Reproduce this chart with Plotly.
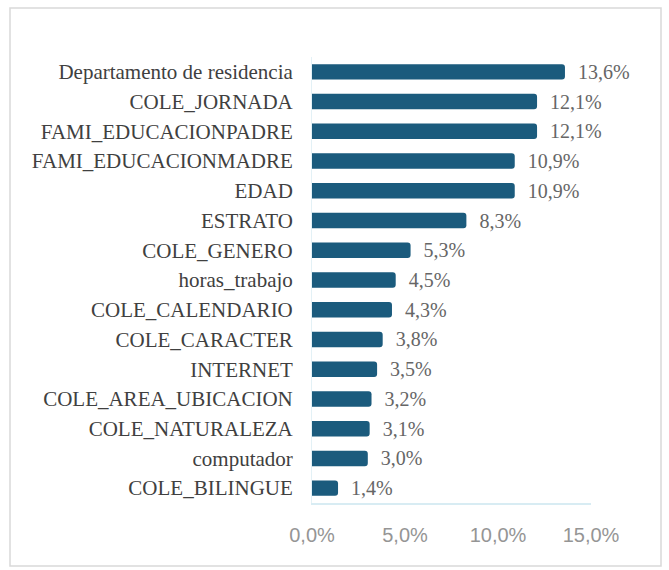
import plotly.graph_objects as go

categories = ["Departamento de residencia", "COLE_JORNADA", "FAMI_EDUCACIONPADRE",
              "FAMI_EDUCACIONMADRE", "EDAD", "ESTRATO", "COLE_GENERO", "horas_trabajo",
              "COLE_CALENDARIO", "COLE_CARACTER", "INTERNET", "COLE_AREA_UBICACION",
              "COLE_NATURALEZA", "computador", "COLE_BILINGUE"]
values = [0.136, 0.121, 0.121, 0.109, 0.109, 0.083, 0.053, 0.045,
          0.043, 0.038, 0.035, 0.032, 0.031, 0.030, 0.014]
tick_vals = [0.0, 0.05, 0.10, 0.15]

SERIF = "'Liberation Serif', 'Times New Roman', serif"
SANS = "'Liberation Sans', Arial, sans-serif"

fig = go.Figure(go.Bar(
    x=values, y=categories, orientation="h",
    marker=dict(color="#1b5b7d", cornerradius=3, line=dict(width=0)),
    width=0.52,
    texttemplate="\u00a0\u00a0%{x:.1%}", textposition="outside",
    constraintext="none",
    textfont=dict(family=SERIF, size=20, color="#666666"),
    cliponaxis=False,
))

L, R, T, B = 312, 78, 57, 67
W, H = 669, 570
pw, ph = W - L - R, H - T - B

fig.update_layout(
    width=W, height=H, separators=",.",
    margin=dict(l=L, r=R, t=T, b=B),
    paper_bgcolor="white", plot_bgcolor="white",
    showlegend=False,
    xaxis=dict(range=[0, 0.15], tickvals=tick_vals, tickformat=".1%",
               showgrid=False, zeroline=False, showline=True, linecolor="#d8ecf3", linewidth=2,
               ticks="", ticklabelstandoff=13,
               tickfont=dict(family=SANS, size=20, color="#959595")),
    yaxis=dict(autorange="reversed", showgrid=False, zeroline=False, showline=True,
               linecolor="#e3f1f6", linewidth=1, ticks="", ticklabelstandoff=14,
               tickfont=dict(family=SERIF, size=21, color="#404040")),
    shapes=[dict(type="rect", xref="paper", yref="paper",
                 x0=(10 - L) / pw, x1=(661 - L) / pw,
                 y0=(H - B - 566) / ph, y1=(H - B - 8) / ph,
                 line=dict(color="#d9d9d9", width=1.5))],
)

fig.write_html("out.html")
